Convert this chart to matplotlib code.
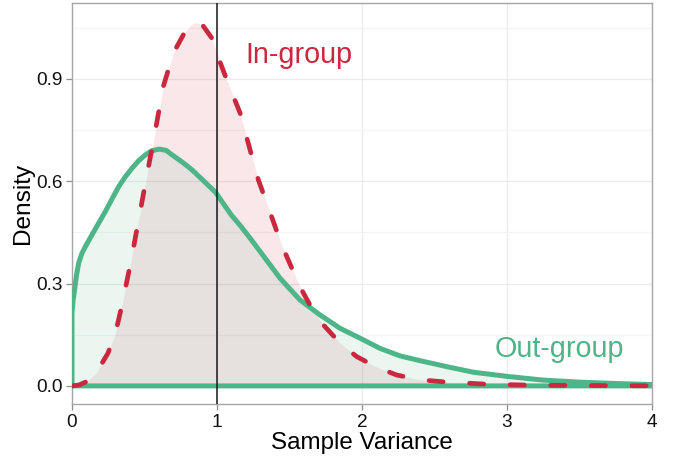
import matplotlib
matplotlib.use("Agg")
import matplotlib.pyplot as plt
from matplotlib.ticker import MultipleLocator

plt.rcParams['font.family'] = ['Liberation Sans', 'DejaVu Sans']

# ---- data ----
out_x = [0.0, 0.0, 0.008, 0.018, 0.030, 0.046, 0.068, 0.092, 0.138, 0.184, 0.23,
         0.276, 0.322, 0.368, 0.414, 0.46, 0.506, 0.55, 0.602, 0.65, 0.69, 0.76,
         0.828, 0.91, 0.99, 1.10, 1.16, 1.23, 1.297, 1.434, 1.572, 1.71, 1.848,
         1.986, 2.124, 2.262, 2.40, 2.6, 2.77, 3.0, 3.25, 3.5, 3.75, 4.0, 4.2]
out_y = [0.0, 0.214, 0.252, 0.282, 0.322, 0.36, 0.388, 0.408, 0.443, 0.477, 0.511,
         0.548, 0.584, 0.613, 0.638, 0.660, 0.677, 0.689, 0.694, 0.690, 0.677, 0.656,
         0.633, 0.600, 0.567, 0.50, 0.47, 0.432, 0.394, 0.316, 0.252, 0.208, 0.169,
         0.140, 0.110, 0.088, 0.074, 0.055, 0.040, 0.028, 0.017, 0.011, 0.007, 0.004,
         0.003]

in_x = [0.0, 0.05, 0.103, 0.17, 0.248, 0.30, 0.34, 0.402, 0.46, 0.517, 0.563, 0.63,
        0.70, 0.768, 0.80, 0.837, 0.87, 0.906, 0.963, 1.02, 1.078, 1.159, 1.228,
        1.285, 1.343, 1.446, 1.572, 1.65, 1.733, 1.85, 1.963, 2.1, 2.239, 2.4, 2.56,
        2.86, 3.2, 3.6, 4.2]
in_y = [0.0, 0.003, 0.013, 0.04, 0.096, 0.155, 0.228, 0.355, 0.487, 0.619, 0.721,
        0.878, 0.976, 1.029, 1.048, 1.063, 1.064, 1.054, 1.02, 0.95, 0.885, 0.80,
        0.692, 0.604, 0.536, 0.413, 0.291, 0.230, 0.179, 0.125, 0.086, 0.055, 0.032,
        0.018, 0.012, 0.005, 0.002, 0.001, 0.0]

x_ticks = [0, 1, 2, 3, 4]
y_ticks = [0.0, 0.3, 0.6, 0.9]
y_tick_labels = ["0.0", "0.3", "0.6", "0.9"]
ref_line = 1.0

RED = '#C9283E'
GREEN = '#4DB588'

fig = plt.figure(figsize=(6.76, 4.57), dpi=100)
ax = fig.add_axes([72/676, 1 - 404/457, 580/676, 401/457])

ax.set_xlim(0, 4)
ax.set_ylim(-0.053, 1.122)

# grid
ax.set_xticks(x_ticks)
ax.set_yticks(y_ticks)
ax.set_yticklabels(y_tick_labels)
ax.yaxis.set_minor_locator(MultipleLocator(0.15))
ax.grid(True, which='major', color='#EBEBEB', linewidth=0.9, zorder=0)
ax.grid(True, which='minor', axis='y', color='#F4F4F4', linewidth=0.9, zorder=0)
ax.tick_params(which='minor', length=0)
ax.set_axisbelow(True)

# fills
ax.fill_between(in_x, in_y, 0, color=RED, alpha=0.11, linewidth=0, zorder=1)
ax.fill_between(out_x, out_y, 0, color=GREEN, alpha=0.11, linewidth=0, zorder=1)

# out-group outline (closed polygon incl. baseline)
ax.plot(out_x + [out_x[-1], 0.0], out_y + [0.0, 0.0], color=GREEN, linewidth=3.6,
        solid_joinstyle='round', solid_capstyle='round', zorder=3)

# in-group dashed outline
ax.plot(in_x, in_y, color=RED, linewidth=3.4, linestyle=(0, (3.0, 5.6)),
        dash_capstyle='round', dash_joinstyle='round', zorder=4)

ax.axvline(ref_line, color='#1a1a1a', linewidth=1.1, zorder=5)

ax.text(1.193, 0.946, "In-group", color=RED, fontsize=20.7, ha='left', va='baseline')
ax.text(2.915, 0.086, "Out-group", color=GREEN, fontsize=20.7, ha='left', va='baseline')

for s in ax.spines.values():
    s.set_color('#A6A6A6')
    s.set_linewidth(1.0)

ax.tick_params(axis='both', which='major', length=4, width=0.9, color='#8C8C8C',
               labelsize=13.7, labelcolor='#111111', pad=3)

ax.set_xlabel("Sample Variance", fontsize=17.4, labelpad=1)
ax.set_ylabel("Density", fontsize=17.6, labelpad=1.5)

fig.savefig("out.png", dpi=100)
